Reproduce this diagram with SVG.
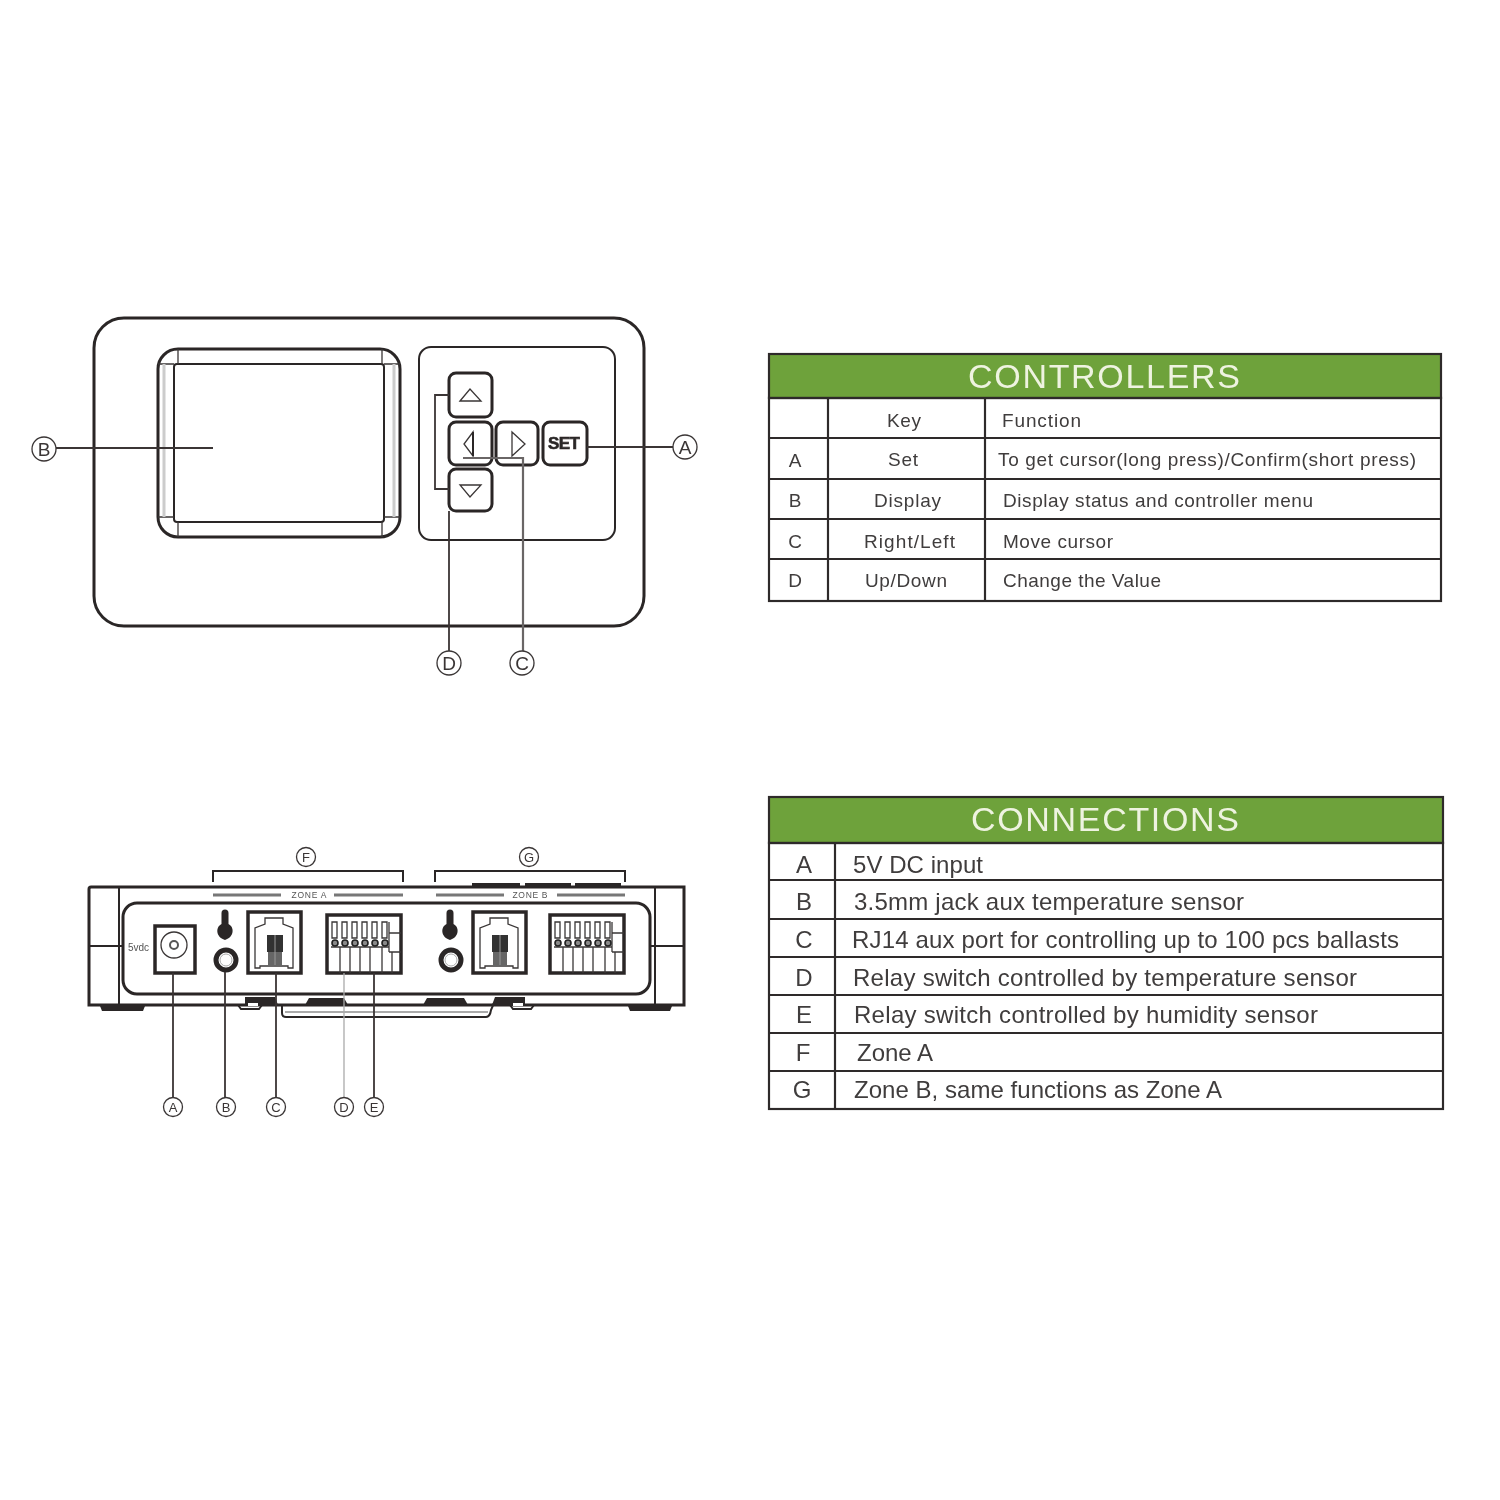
<svg xmlns="http://www.w3.org/2000/svg" width="1500" height="1500" viewBox="0 0 1500 1500">
<defs><style>
.o{fill:none;stroke:#2b2727;stroke-width:3}
.m{fill:none;stroke:#2b2727;stroke-width:2}
.t{fill:none;stroke:#3a3636;stroke-width:1.3}
.l{fill:none;stroke:#3a3636;stroke-width:1.8}
.k{fill:#2b2727;stroke:none}
text{font-family:"Liberation Sans",Arial,sans-serif;fill:#3f3c3c}
.c{text-anchor:middle}
.h{font-size:34px;fill:#eef3e0;text-anchor:middle}
.a{font-size:19px}
.b{font-size:24px}
.big{font-size:19px;text-anchor:middle;fill:#3a3636}
.sm{font-size:13px;text-anchor:middle;fill:#3a3636}
.tb{fill:none;stroke:#2f2b2b;stroke-width:2.2}
.g{fill:#6ea23a;stroke:#2f2b2b;stroke-width:2.2}
</style>
<filter id="soft" x="0" y="0" width="1500" height="1500" filterUnits="userSpaceOnUse"><feGaussianBlur stdDeviation="0.45"/></filter>
<g id="term">
<rect x="0" y="0" width="74" height="58" fill="#fff" stroke="#2b2727" stroke-width="3.5"/>
<path class="t" d="M5 7V23H10V7ZM15 7V23H20V7ZM25 7V23H30V7ZM35 7V23H40V7ZM45 7V23H50V7ZM55 7V23H60V7Z"/>
<path class="t" d="M62 18H74M62 37H74M62 7V37M4 32H62M13 32V58M23 32V58M33 32V58M43 32V58M55 32V58M65 37V58"/>
<g fill="#8a8a8a" stroke="#222" stroke-width="1.6"><circle cx="8" cy="28" r="3"/><circle cx="18" cy="28" r="3"/><circle cx="28" cy="28" r="3"/><circle cx="38" cy="28" r="3"/><circle cx="48" cy="28" r="3"/><circle cx="58" cy="28" r="3"/></g>
</g>
<g id="rj">
<rect x="0" y="0" width="53" height="61" fill="#fff" stroke="#2b2727" stroke-width="3.5"/>
<path class="t" d="M17 6H35V12L45 16V56H40V54H12V56H7V16L17 12Z"/>
<rect x="19" y="23" width="16" height="17" fill="#333"/>
<rect x="20" y="40" width="14" height="14" fill="#666"/>
<path d="M27 23V53" stroke="#999" stroke-width="1"/>
</g>
<g id="key">
<path class="k" d="M-3.500 -1A3.500 3.500 0 0 1 3.500 -1L3.500 10C9.500 13 9.500 23 0 26C-9.500 23 -9.500 13 -3.500 10Z"/>
</g>
<g id="jack">
<circle r="10" fill="#fff" stroke="#2b2727" stroke-width="5"/>
<circle r="6" fill="none" stroke="#aaa" stroke-width="1"/>
</g>
</defs>
<rect width="1500" height="1500" fill="#fff"/>
<g filter="url(#soft)">
<g id="controller-front">
<rect class="o" x="94" y="318" width="550" height="308" rx="30"/>
</g>
<g id="display">
<rect class="o" x="158" y="349" width="242" height="188" rx="20"/>
<rect class="m" x="174" y="364" width="210" height="158" rx="3"/>
<path class="t" d="M158 364H174M178 349V364M400 364H384M382 349V364M158 517H174M178 537V522M400 517H384M382 537V522"/>
<path d="M164 364V517M394 364V517" stroke="#ccc" stroke-width="3" fill="none"/>
</g>
<g id="keypad">
<rect class="m" x="419" y="347" width="196" height="193" rx="12"/>
</g>
<g id="key-up"><rect class="o" x="449" y="373" width="43" height="44" rx="7"/><path class="t" d="M460 401L470 389L481 401Z"/></g>
<g id="key-left"><rect class="o" x="449" y="422" width="43" height="43" rx="7"/><path class="t" d="M473 432L464 444L473 456Z"/><path class="m" d="M473 432V456"/></g>
<g id="key-down"><rect class="o" x="449" y="469" width="43" height="42" rx="7"/><path class="t" d="M460 485H481L470 497Z"/></g>
<g id="key-right"><rect class="o" x="496" y="422" width="42" height="43" rx="7"/><path class="t" d="M512 432L525 444L512 456Z"/></g>
<g id="key-set"><rect class="o" x="543" y="422" width="44" height="43" rx="7"/><text class="c" x="564" y="449" font-size="17" font-weight="bold" style="fill:#2b2727" stroke="#2b2727" stroke-width=".6" textLength="32">SET</text></g>

<g id="controller-connectors">
<path class="l" d="M449 395H435V489H449M587 447H673M56 448H213M449 511V651"/>
<path d="M463 458H523V651" fill="none" stroke="#6a6666" stroke-width="2.200"/>
</g>
<g id="label-top-A"><circle class="t" cx="685" cy="447" r="12"/><text class="big" x="685" y="454">A</text></g>
<g id="label-top-B"><circle class="t" cx="44" cy="449" r="12"/><text class="big" x="44" y="456">B</text></g>
<g id="label-top-D"><circle class="t" cx="449" cy="663" r="12"/><text class="big" x="449" y="670">D</text></g>
<g id="label-top-C"><circle class="t" cx="522" cy="663" r="12"/><text class="big" x="522" y="670">C</text></g>

<g id="controllers-table">
<rect class="g" x="769" y="354" width="672" height="44"/>
<rect class="tb" x="769" y="398" width="672" height="203"/>
<path class="tb" d="M769 438H1441M769 479H1441M769 519H1441M769 559H1441M828 398V601M985 398V601"/>
<text class="h" x="1104" y="388" textLength="272">CONTROLLERS</text>
<text class="a" x="887" y="427" textLength="34">Key</text><text class="a" x="1002" y="427" textLength="79">Function</text>
<text class="a c" x="795" y="467">A</text><text class="a" x="888" y="466" textLength="30">Set</text><text class="a" x="998" y="466" textLength="418">To get cursor(long press)/Confirm(short press)</text>
<text class="a c" x="795" y="507">B</text><text class="a" x="874" y="507" textLength="67">Display</text><text class="a" x="1003" y="507" textLength="310">Display status and controller menu</text>
<text class="a c" x="795" y="548">C</text><text class="a" x="864" y="548" textLength="91">Right/Left</text><text class="a" x="1003" y="548" textLength="110">Move cursor</text>
<text class="a c" x="795" y="587">D</text><text class="a" x="865" y="587" textLength="82">Up/Down</text><text class="a" x="1003" y="587" textLength="158">Change the Value</text>
</g>

<g id="device-rear">
<path class="o" d="M89 1005V889Q89 887 91 887H684V1005Z"/>
<path class="m" d="M119 887V1005M655 887V1005M89 946H123M650 946H684"/>
<rect class="o" x="123" y="903" width="527" height="91" rx="14"/>
<path class="k" d="M100 1006H145L143 1011H102ZM628 1006H672L670 1011H630ZM472 883H520V887H472ZM525 883H571V887H525ZM575 883H621V887H575ZM309 998H344L348 1005H305ZM427 998H464L468 1005H423ZM245 997H275L278 1005H245ZM495 997H525V1005H492Z"/>
<path d="M248 1003H258V1006H248ZM513 1003H523V1006H513Z" fill="#fff"/>
<path class="m" d="M238 1005L241 1009H259L262 1005M510 1005L513 1009H531L534 1005M282 1006V1013Q282 1017 286 1017H486Q490 1017 491 1010L494 1003"/>
<path d="M285 1012H488" stroke="#aaa" stroke-width="2"/>
<path d="M213 895H281M334 895H403M436 895H504M557 895H625" stroke="#777" stroke-width="3"/>
<text class="c" x="309" y="898" font-size="8.500" style="fill:#555" textLength="35">ZONE A</text>
<text class="c" x="530" y="898" font-size="8.500" style="fill:#555" textLength="35">ZONE B</text>
</g>
<g id="rear-dc"><rect x="155" y="926" width="40" height="47" fill="#fff" stroke="#2b2727" stroke-width="3.500"/><circle class="t" cx="174" cy="945" r="13"/><circle cx="174" cy="945" r="4" fill="none" stroke="#555" stroke-width="2"/><text x="128" y="951" font-size="10" style="fill:#555">5vdc</text></g>
<g id="rear-a-sensor"><use href="#key" x="225" y="914"/><use href="#jack" x="226" y="960"/></g>
<g id="rear-a-rj"><use href="#rj" x="248" y="912"/></g>
<g id="rear-a-term"><use href="#term" x="327" y="915"/></g>
<g id="rear-b-sensor"><use href="#key" x="450" y="914"/><use href="#jack" x="451" y="960"/></g>
<g id="rear-b-rj"><use href="#rj" x="473" y="912"/></g>
<g id="rear-b-term"><use href="#term" x="550" y="915"/></g>

<g id="rear-connectors">
<path class="l" d="M173 973V1098M225 972V1098M276 973V1098M374 973V1098"/>
<path d="M344 973V1098" stroke="#aaa" stroke-width="1.300"/>
<path class="m" d="M213 882V871H403V882M435 882V871H625V882"/>
</g>
<g id="label-rear-A"><circle class="t" cx="173" cy="1107" r="9.500"/><text class="sm" x="173" y="1112">A</text></g>
<g id="label-rear-B"><circle class="t" cx="226" cy="1107" r="9.500"/><text class="sm" x="226" y="1112">B</text></g>
<g id="label-rear-C"><circle class="t" cx="276" cy="1107" r="9.500"/><text class="sm" x="276" y="1112">C</text></g>
<g id="label-rear-D"><circle class="t" cx="344" cy="1107" r="9.500"/><text class="sm" x="344" y="1112">D</text></g>
<g id="label-rear-E"><circle class="t" cx="374" cy="1107" r="9.500"/><text class="sm" x="374" y="1112">E</text></g>
<g id="label-rear-F"><circle class="t" cx="306" cy="857" r="9.500"/><text class="sm" x="306" y="862">F</text></g>
<g id="label-rear-G"><circle class="t" cx="529" cy="857" r="9.500"/><text class="sm" x="529" y="862">G</text></g>

<g id="connections-table">
<rect class="g" x="769" y="797" width="674" height="46"/>
<rect class="tb" x="769" y="843" width="674" height="266"/>
<path class="tb" d="M769 880H1443M769 919H1443M769 957H1443M769 995H1443M769 1033H1443M769 1071H1443M835 843V1109"/>
<text class="h" x="1105" y="831" textLength="268">CONNECTIONS</text>
<text class="b c" x="804" y="873">A</text><text class="b" x="853" y="873" textLength="130">5V DC input</text>
<text class="b c" x="804" y="910">B</text><text class="b" x="854" y="910" textLength="390">3.5mm jack aux temperature sensor</text>
<text class="b c" x="804" y="948">C</text><text class="b" x="852" y="948" textLength="547">RJ14 aux port for controlling up to 100 pcs ballasts</text>
<text class="b c" x="804" y="986">D</text><text class="b" x="853" y="986" textLength="504">Relay switch controlled by temperature sensor</text>
<text class="b c" x="804" y="1023">E</text><text class="b" x="854" y="1023" textLength="464">Relay switch controlled by humidity sensor</text>
<text class="b c" x="803" y="1061">F</text><text class="b" x="857" y="1061" textLength="76">Zone A</text>
<text class="b c" x="802" y="1098">G</text><text class="b" x="854" y="1098" textLength="368">Zone B, same functions as Zone A</text>
</g>
</g>
</svg>
